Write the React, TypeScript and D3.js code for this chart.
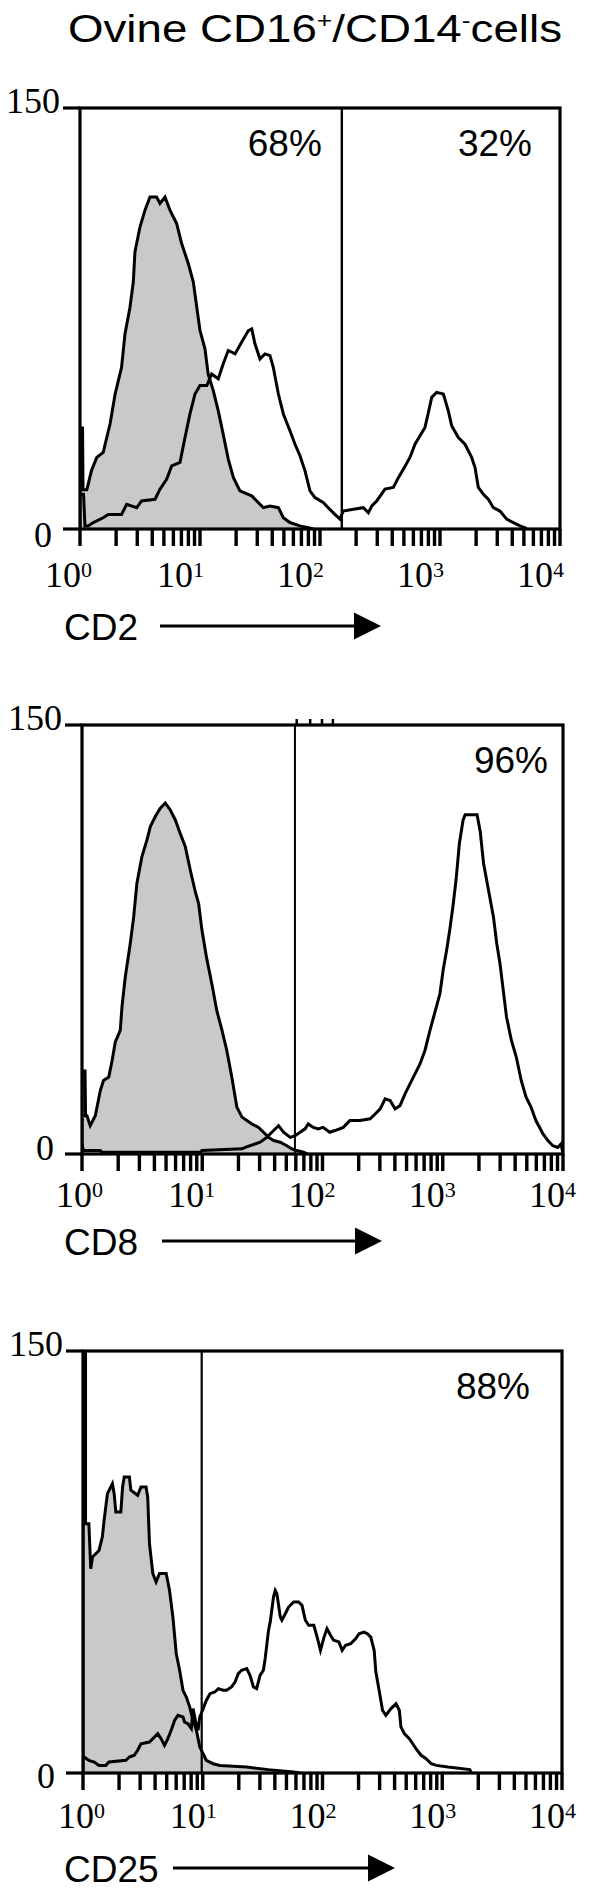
import React from 'react';
import * as d3 from 'd3';

type Pt = [number, number];

// fluorescence intensity (log scale) vs cell count
const cd2Control: Pt[] = [
  [1.0, 0], [1.0, 36], [1.05, 36], [1.06, 14], [1.14, 14], [1.25, 21], [1.38, 25.5], [1.56, 27.3],
  [1.78, 37.4], [1.96, 48], [2.22, 57.6], [2.37, 69.5], [2.61, 79], [2.78, 88], [2.87, 98.7],
  [3.16, 107.6], [3.48, 113.6], [3.83, 118.3], [4.35, 118.3], [4.64, 116], [5.11, 118.3],
  [5.62, 113.6], [6.39, 108.8], [7.03, 101.7], [8.0, 94.5], [8.8, 88], [9.4, 79], [10, 70.7],
  [11.0, 64.2], [11.7, 55.2], [12.9, 49.3], [14.2, 42.1], [15.6, 33.8], [17.2, 24.9], [19.0, 18.3],
  [21.5, 13.6], [27, 11.8], [29.7, 10], [33.7, 7.6], [38.3, 8.2], [45, 7.6], [49.5, 4], [56.2, 2.3],
  [68, 1.1], [80, 0.5], [88, 0],
];
const cd2Stained: Pt[] = [
  [1.0, 12.4], [1.07, 12.4], [1.1, 1.1], [1.17, 1.1], [1.29, 2.3], [1.56, 4.0], [1.72, 5.2], [2.22, 5.2],
  [2.45, 8.8], [2.97, 7.6], [3.26, 10], [4.22, 10.6], [4.64, 14.2], [5.27, 17.7], [5.81, 22.5],
  [6.81, 23.7], [7.5, 32.6], [8.25, 41], [9.09, 48.1], [10, 51.1], [11.4, 51.1], [12.5, 55.2],
  [14.2, 53.5], [15.6, 58.8], [17.2, 63.6], [19.6, 62.4], [22.2, 66.5], [25.3, 70.7], [27.0, 71.3],
  [28.7, 66], [31.6, 60.6], [34.8, 62.4], [38.3, 61.8], [40.8, 57.6], [45, 48.1], [49.5, 41],
  [56.2, 35], [61.9, 30.2], [68.1, 26.1], [75, 20.7], [82.5, 13.6], [90.8, 11.2], [107, 9.4],
  [117, 7.6], [133, 5.2], [147, 3.5], [156, 6.4], [190, 7.0], [230, 7.6], [253, 5.8], [270, 8.2],
  [297, 10], [348, 14.2], [408, 14.8], [450, 18.3], [495, 21.3], [562, 25.5], [619, 30.2],
  [681, 33.2], [750, 36.2], [800, 41.5], [853, 46.9], [938, 48.7], [1066, 48.1], [1173, 42.1],
  [1251, 36.8], [1422, 32.6], [1615, 30.2], [1836, 25.5], [1958, 21.9], [2086, 14.8], [2297, 12.4],
  [2528, 10.6], [2783, 7.6], [3162, 6.4], [3594, 3.5], [4084, 2.3], [4642, 1.1], [5275, 0.2],
];
const cd2Gates = [152];
const cd2Percents = ['68%', '32%'];

const cd8Control: Pt[] = [
  [1.0, 0], [1.0, 29], [1.06, 29], [1.07, 13.4], [1.1, 13.4], [1.17, 9.9], [1.29, 13.4], [1.42, 22.2],
  [1.51, 25.7], [1.67, 26.9], [1.78, 32.7], [1.89, 39.1], [2.08, 43.2], [2.15, 51.4], [2.29, 61.9],
  [2.52, 73.6], [2.69, 82.9], [2.86, 94.6], [3.15, 104], [3.47, 109.8], [3.7, 114.5], [4.07, 118],
  [4.48, 120.9], [4.93, 122.7], [5.42, 120.3], [5.97, 116.8], [6.56, 112.1], [7.22, 107.5],
  [7.95, 99.3], [8.75, 91.7], [9.33, 87.6], [9.94, 78.3], [10.9, 68.3], [12.0, 59.6], [13.2, 50.2],
  [14.6, 43.2], [16.0, 36.2], [17.6, 26.9], [19.4, 16.4], [21.4, 12.9], [23.5, 11.7], [25.9, 10.5],
  [29.4, 9.3], [32.3, 7.6], [35.6, 5.8], [39.2, 4.7], [44.5, 4.1], [50.5, 2.9], [55.6, 1.8],
  [61.2, 1.2], [69.5, 0.6], [75, 0],
];
const cd8Stained: Pt[] = [
  [1.0, 3.5], [1.03, 1.2], [1.42, 1.2], [1.47, 0.6], [9.6, 0.6], [9.94, 1.2], [21.4, 1.8], [22.8, 2.3],
  [30.3, 4.1], [34.4, 5.8], [39.2, 8.2], [43.1, 9.9], [47.4, 7.6], [53.9, 5.8], [59.3, 6.4],
  [65.1, 7.6], [71.6, 8.8], [76.1, 10.5], [83.8, 9.3], [92.1, 8.8], [101, 9.3], [115, 7.6],
  [127, 8.2], [149, 9.3], [169, 11.7], [205, 11.7], [249, 12.3], [274, 14.0], [302, 15.8],
  [332, 19.3], [365, 18.7], [401, 15.8], [441, 16.9], [486, 21.0], [534, 24.5], [588, 28.0],
  [647, 31.5], [711, 36.2], [783, 43.2], [861, 49.6], [948, 56.1], [1008, 64.3], [1078, 71.3],
  [1143, 78.3], [1214, 86.4], [1290, 95.8], [1375, 108.6], [1476, 116.8], [1535, 118.6],
  [1930, 118.6], [2050, 112.7], [2185, 101.6], [2400, 92.3], [2640, 82.9], [2812, 73.6],
  [2992, 66.6], [3186, 57.2], [3390, 47.9], [3724, 39.7], [4089, 33.9], [4492, 25.7], [4932, 19.9],
  [5418, 16.4], [5950, 11.7], [6820, 7.0], [7490, 4.7], [8230, 2.9], [9040, 2.3], [9630, 3.5],
  [10000, 0],
];
const cd8Gates = [59];
const cd8Percents = ['', '96%'];
const cd8TopMarks = [61, 79, 99, 122];

const cd25Control: Pt[] = [
  [1.0, 0], [1.0, 200], [1.05, 200], [1.05, 88.6], [1.12, 88.6], [1.16, 72.6], [1.2, 76.8],
  [1.36, 79.1], [1.45, 83.9], [1.5, 89.8], [1.6, 99.3], [1.76, 102.8], [1.82, 99.3], [1.88, 92.8],
  [2.07, 92.8], [2.14, 101.7], [2.21, 105.2], [2.44, 105.2], [2.51, 100.5], [2.86, 98.7],
  [3.05, 101.7], [3.36, 101.7], [3.47, 98.1], [3.59, 81.5], [3.83, 70.9], [4.08, 67.9], [4.35, 70.9],
  [4.95, 70.9], [5.28, 64.9], [5.63, 55.5], [6.01, 42.4], [6.41, 36.5], [6.84, 29.4], [7.29, 27.0],
  [7.78, 23.5], [8.3, 18.7], [8.85, 15.2], [9.44, 9.2], [10.1, 6.8], [10.7, 4.5], [12.2, 3.3],
  [13.9, 2.7], [23.3, 2.1], [35.4, 1.2], [57.4, 0.4], [65, 0],
];
const cd25Stained: Pt[] = [
  [1.0, 5.7], [1.02, 5.7], [1.12, 4.5], [1.24, 3.9], [1.36, 2.7], [1.55, 2.7], [1.65, 3.9], [2.28, 4.5],
  [2.44, 5.7], [2.68, 6.3], [2.86, 8.1], [3.05, 10.4], [3.59, 11.0], [3.95, 12.8], [4.21, 14.0],
  [4.49, 12.2], [4.79, 9.8], [5.11, 12.2], [5.45, 15.2], [5.82, 18.7], [6.21, 20.5], [6.84, 19.9],
  [7.06, 18.1], [7.53, 17.5], [8.03, 15.8], [8.3, 22.9], [8.85, 16.9], [9.14, 15.2], [9.44, 19.9],
  [10.1, 22.9], [10.7, 25.8], [11.5, 28.2], [12.6, 28.8], [13.5, 30.0], [14.8, 29.4], [15.8, 29.4],
  [17.4, 30.6], [18.6, 32.3], [19.8, 35.3], [21.1, 36.5], [23.3, 37.1], [24.8, 34.7], [26.5, 30.6],
  [28.2, 30.0], [30.1, 34.7], [32.1, 36.5], [33.2, 40.6], [35.4, 50.7], [36.6, 53.7], [39.0, 62.6],
  [40.3, 64.9], [41.6, 63.7], [43.0, 59.6], [44.4, 55.5], [45.8, 54.3], [48.9, 56.6], [52.1, 59.0],
  [57.4, 60.8], [63.2, 60.8], [67.4, 59.6], [71.9, 54.3], [76.7, 52.5], [84.6, 52.5], [90.2, 48.3],
  [96.2, 43.6], [103, 48.3], [109, 51.3], [117, 48.9], [124, 47.2], [137, 46.6], [146, 43.6],
  [156, 45.4], [172, 46.0], [189, 47.7], [202, 49.5], [222, 50.1], [237, 49.5], [253, 48.3],
  [270, 43.6], [279, 35.9], [297, 29.4], [317, 22.3], [338, 20.5], [373, 22.9], [411, 24.6],
  [438, 22.3], [452, 16.4], [482, 14.0], [531, 12.2], [567, 10.4], [605, 8.6], [666, 6.3],
  [734, 5.1], [809, 3.3], [891, 2.7], [1116, 2.1], [1698, 1.2], [1753, 0],
];
const cd25Gates = [9.8];
const cd25Percents = ['', '88%'];

const decades = [0, 1, 2, 3, 4];
const minorSteps = [1, 2, 3, 4, 5, 6, 7, 8, 9];
const countTicks = [0, 150];

const SERIF = '"Liberation Serif", "Times New Roman", Times, serif';
const SANS = '"Liberation Sans", Arial, Helvetica, sans-serif';

interface PanelCfg {
  id: string;
  marker: string;
  left: number;
  right: number;
  top: number;
  bottom: number;
  control: Pt[];
  stained: Pt[];
  gates: number[];
  percents: string[];
  pctInsets: number[];
  topMarks: number[];
  gateWidth: number;
  tickShift: number;
  tickLabelDy: number;
  zeroDy: number;
  markerDy: number;
  arrowX0: number;
  arrowTip: number;
}

const panels: PanelCfg[] = [
  {
    id: 'cd2', marker: 'CD2', left: 80, right: 560, top: 108, bottom: 529,
    control: cd2Control, stained: cd2Stained, gates: cd2Gates, percents: cd2Percents,
    pctInsets: [20, 28], topMarks: [], gateWidth: 2.4,
    tickShift: 4, tickLabelDy: 58, zeroDy: 18, markerDy: 111, arrowX0: 160, arrowTip: 381,
  },
  {
    id: 'cd8', marker: 'CD8', left: 82, right: 563, top: 725, bottom: 1154,
    control: cd8Control, stained: cd8Stained, gates: cd8Gates, percents: cd8Percents,
    pctInsets: [20, 15], topMarks: cd8TopMarks, gateWidth: 2,
    tickShift: 13, tickLabelDy: 53, zeroDy: 6, markerDy: 101, arrowX0: 162, arrowTip: 382,
  },
  {
    id: 'cd25', marker: 'CD25', left: 83, right: 562, top: 1351, bottom: 1773,
    control: cd25Control, stained: cd25Stained, gates: cd25Gates, percents: cd25Percents,
    pctInsets: [20, 32], topMarks: [], gateWidth: 2.2,
    tickShift: 14, tickLabelDy: 55, zeroDy: 15, markerDy: 109, arrowX0: 173, arrowTip: 395,
  },
];

const Panel: React.FC<{ cfg: PanelCfg }> = ({ cfg }) => {
  const { left, right, top, bottom } = cfg;
  const x = d3.scaleLog().domain([1, 10000]).range([left, right]);
  const y = d3.scaleLinear().domain([0, 150]).range([bottom, top]);

  const line = d3.line<Pt>().x(d => x(d[0])).y(d => y(d[1]));
  const area = d3.area<Pt>().x(d => x(d[0])).y0(y(0)).y1(d => y(d[1]));

  const ticks = decades.slice(0, 4)
    .flatMap(k => minorSteps.map(m => m * Math.pow(10, k)))
    .concat([10000]);

  const bounds = [1, ...cfg.gates, 10000];
  const labelY = bottom + cfg.markerDy;
  const arrowY = labelY - 14;
  const headLen = 27;

  return (
    <g>
      <defs>
        <clipPath id={`clip-${cfg.id}`}>
          <rect x={left} y={top} width={right - left} height={bottom - top} />
        </clipPath>
      </defs>

      <g clipPath={`url(#clip-${cfg.id})`}>
        <path d={area(cfg.control) || ''} fill="#c9c9c9" stroke="none" />
        <path d={line(cfg.control) || ''} fill="none" stroke="#000" strokeWidth={3} />
        <path d={line(cfg.stained) || ''} fill="none" stroke="#000" strokeWidth={3} />
      </g>

      {/* gate markers */}
      {cfg.gates.map(g => (
        <line key={g} x1={x(g)} x2={x(g)} y1={top} y2={bottom} stroke="#000" strokeWidth={cfg.gateWidth} />
      ))}
      {cfg.topMarks.map(m => (
        <line key={m} x1={x(m)} x2={x(m)} y1={top - 6} y2={top} stroke="#000" strokeWidth={2.5} />
      ))}

      {/* frame */}
      <rect x={left} y={top} width={right - left} height={bottom - top} fill="none" stroke="#000" strokeWidth={3.2} />
      <line x1={left - 17} x2={left} y1={y(150)} y2={y(150)} stroke="#000" strokeWidth={3.2} />
      <line x1={left - 17} x2={left} y1={y(0)} y2={y(0)} stroke="#000" strokeWidth={3.2} />

      {/* log ticks */}
      {ticks.map(t => (
        <line key={t} x1={x(t)} x2={x(t)} y1={bottom} y2={bottom + 17} stroke="#000" strokeWidth={3.4} />
      ))}

      {/* count labels */}
      {countTicks.map(c => (
        <text
          key={c}
          x={c === 0 ? left - 28 : left - 20}
          y={c === 0 ? bottom + cfg.zeroDy : top + 5}
          textAnchor="end"
          fontFamily={SERIF}
          fontSize={36}
        >
          {c}
        </text>
      ))}

      {/* decade labels */}
      {decades.map(k => (
        <text
          key={k}
          x={x(Math.pow(10, k)) + cfg.tickShift + (k === 0 ? 8 : 0)}
          y={bottom + cfg.tickLabelDy}
          textAnchor="end"
          fontFamily={SERIF}
          fontSize={36}
        >
          <tspan>10</tspan>
          <tspan dy={-10} fontSize={22}>{k}</tspan>
        </text>
      ))}

      {/* percentages */}
      {cfg.percents.map((p, i) =>
        p ? (
          <text
            key={i}
            x={x(bounds[i + 1]) - cfg.pctInsets[i]}
            y={top + 48}
            textAnchor="end"
            fontFamily={SANS}
            fontSize={37}
          >
            {p}
          </text>
        ) : null
      )}

      {/* axis label and arrow */}
      <text x={64} y={labelY} fontFamily={SANS} fontSize={37}>{cfg.marker}</text>
      <line x1={cfg.arrowX0} x2={cfg.arrowTip - headLen + 1} y1={arrowY} y2={arrowY} stroke="#000" strokeWidth={3} />
      <path
        d={`M${cfg.arrowTip - headLen},${arrowY - 13.5}L${cfg.arrowTip},${arrowY}L${cfg.arrowTip - headLen},${arrowY + 13.5}Z`}
        fill="#000"
      />
    </g>
  );
};

const App: React.FC = () => {
  return (
    <svg
      width={600}
      height={1895}
      viewBox="0 0 600 1895"
      style={{ position: 'absolute', left: 0, top: 0, background: '#fff' }}
    >
      <rect width={600} height={1895} fill="#fff" />
      <text
        x={68}
        y={42}
        fontFamily={SANS}
        fontSize={38}
        textLength={494}
        lengthAdjust="spacingAndGlyphs"
      >
        <tspan>Ovine CD16</tspan>
        <tspan dy={-14} fontSize={22}>+</tspan>
        <tspan dy={14}>/CD14</tspan>
        <tspan dy={-14} fontSize={22}>-</tspan>
        <tspan dy={14}>cells</tspan>
      </text>
      {panels.map(p => (
        <Panel key={p.id} cfg={p} />
      ))}
    </svg>
  );
};

export default App;
